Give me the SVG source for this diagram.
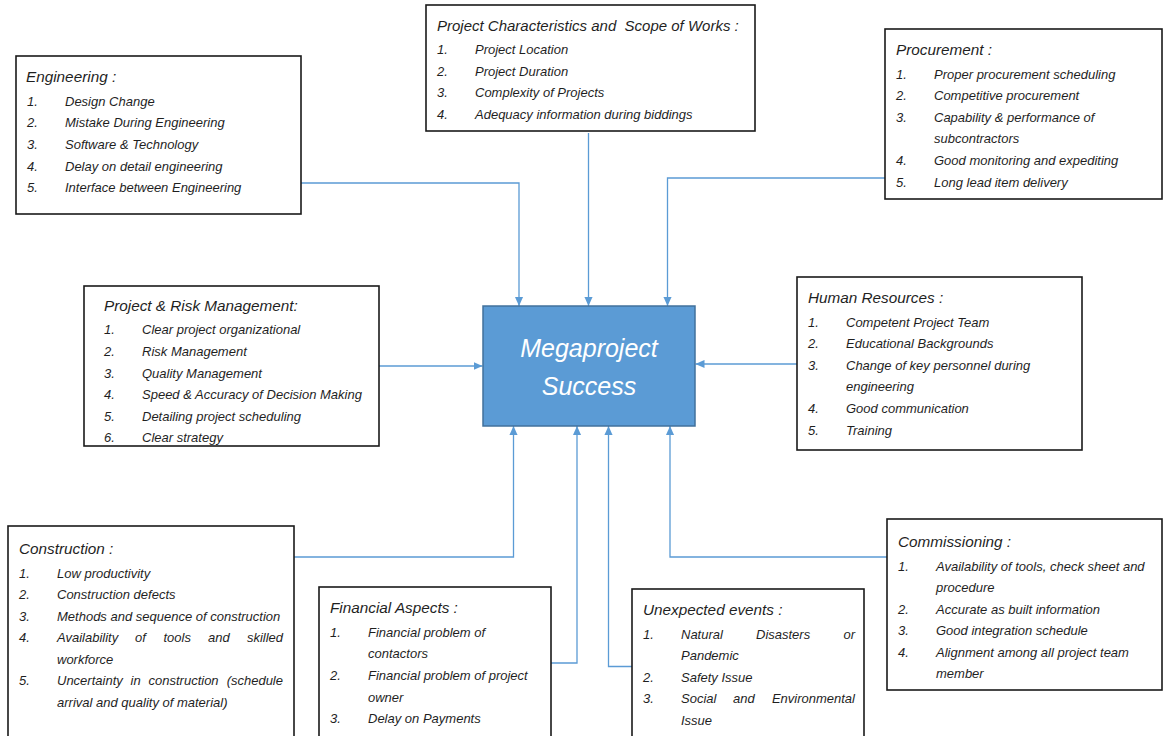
<svg xmlns="http://www.w3.org/2000/svg" width="1164" height="736" viewBox="0 0 1164 736">
<defs>
<style>
.box{fill:#fff;stroke:#1a1a1a;stroke-width:1.6}
.t{font-family:"Liberation Sans",Arial,sans-serif;font-style:italic;font-size:13px;fill:#1f1f1f}
.h{font-family:"Liberation Sans",Arial,sans-serif;font-style:italic;font-size:15.3px;fill:#1f1f1f;white-space:pre}
.c{fill:none;stroke:#5B9BD5;stroke-width:1.3;marker-end:url(#ah)}
.ctr{font-family:"Liberation Sans",Arial,sans-serif;font-style:italic;font-size:25px;fill:#fff;text-anchor:middle}
</style>
<marker id="ah" viewBox="0 0 10 10" refX="10" refY="5" markerWidth="9" markerHeight="9" markerUnits="userSpaceOnUse" orient="auto">
<path d="M0,0.5 L10,5 L0,9.5 z" fill="#5B9BD5"/>
</marker>
</defs>
<rect width="1164" height="736" fill="#fff"/>

<g id="connectors">
<path class="c" d="M301,183 H519 V306"/>
<path class="c" d="M588.5,133 V306"/>
<path class="c" d="M885,178 H667.5 V306"/>
<path class="c" d="M379,366 H482.5"/>
<path class="c" d="M797,364 H695.5"/>
<path class="c" d="M294,557 H513.5 V426"/>
<path class="c" d="M551,663 H577 V426"/>
<path class="c" d="M632,666.5 H608.5 V426"/>
<path class="c" d="M887,557 H670 V426"/>
</g>

<g id="center">
<rect x="483" y="306" width="212" height="120" fill="#5B9BD5" stroke="#41719C" stroke-width="1.5"/>
<text class="ctr" x="589" y="357">Megaproject</text>
<text class="ctr" x="589" y="395">Success</text>
</g>

<g id="engineering">
<rect class="box" x="16" y="56" width="285" height="158"/>
<text class="h" x="26" y="82">Engineering :</text>
<text class="t" x="27" y="106">1.</text><text class="t" x="65" y="106">Design Change</text>
<text class="t" x="27" y="127">2.</text><text class="t" x="65" y="127">Mistake During Engineering</text>
<text class="t" x="27" y="149">3.</text><text class="t" x="65" y="149">Software &amp; Technology</text>
<text class="t" x="27" y="171">4.</text><text class="t" x="65" y="171">Delay on detail engineering</text>
<text class="t" x="27" y="192">5.</text><text class="t" x="65" y="192">Interface between Engineering</text>
</g>

<g id="scope">
<rect class="box" x="426" y="5" width="329" height="126"/>
<text class="h" x="437" y="31" style="font-size:15px">Project Characteristics and  Scope of Works :</text>
<text class="t" x="437" y="54">1.</text><text class="t" x="475" y="54">Project Location</text>
<text class="t" x="437" y="76">2.</text><text class="t" x="475" y="76">Project Duration</text>
<text class="t" x="437" y="97">3.</text><text class="t" x="475" y="97">Complexity of Projects</text>
<text class="t" x="437" y="119">4.</text><text class="t" x="475" y="119">Adequacy information during biddings</text>
</g>

<g id="procurement">
<rect class="box" x="885" y="29" width="277" height="170"/>
<text class="h" x="896" y="55">Procurement :</text>
<text class="t" x="896" y="79">1.</text><text class="t" x="934" y="79">Proper procurement scheduling</text>
<text class="t" x="896" y="100">2.</text><text class="t" x="934" y="100">Competitive procurement</text>
<text class="t" x="896" y="122">3.</text><text class="t" x="934" y="122">Capability &amp; performance of</text>
<text class="t" x="934" y="143">subcontractors</text>
<text class="t" x="896" y="165">4.</text><text class="t" x="934" y="165">Good monitoring and expediting</text>
<text class="t" x="896" y="187">5.</text><text class="t" x="934" y="187">Long lead item delivery</text>
</g>

<g id="risk">
<rect class="box" x="84" y="286" width="295" height="160"/>
<text class="h" x="104" y="311">Project &amp; Risk Management:</text>
<text class="t" x="104" y="334">1.</text><text class="t" x="142" y="334">Clear project organizational</text>
<text class="t" x="104" y="356">2.</text><text class="t" x="142" y="356">Risk Management</text>
<text class="t" x="104" y="378">3.</text><text class="t" x="142" y="378">Quality Management</text>
<text class="t" x="104" y="399">4.</text><text class="t" x="142" y="399">Speed &amp; Accuracy of Decision Making</text>
<text class="t" x="104" y="421">5.</text><text class="t" x="142" y="421">Detailing project scheduling</text>
<text class="t" x="104" y="442">6.</text><text class="t" x="142" y="442">Clear strategy</text>
</g>

<g id="human">
<rect class="box" x="797" y="277" width="285" height="173"/>
<text class="h" x="808" y="303">Human Resources :</text>
<text class="t" x="808" y="327">1.</text><text class="t" x="846" y="327">Competent Project Team</text>
<text class="t" x="808" y="348">2.</text><text class="t" x="846" y="348">Educational Backgrounds</text>
<text class="t" x="808" y="370">3.</text><text class="t" x="846" y="370">Change of key personnel during</text>
<text class="t" x="846" y="391">engineering</text>
<text class="t" x="808" y="413">4.</text><text class="t" x="846" y="413">Good communication</text>
<text class="t" x="808" y="435">5.</text><text class="t" x="846" y="435">Training</text>
</g>

<g id="construction">
<rect class="box" x="8" y="526" width="286" height="215"/>
<text class="h" x="19" y="554">Construction :</text>
<text class="t" x="19" y="578">1.</text><text class="t" x="57" y="578">Low productivity</text>
<text class="t" x="19" y="599">2.</text><text class="t" x="57" y="599">Construction defects</text>
<text class="t" x="19" y="621">3.</text><text class="t" x="57" y="621">Methods and sequence of construction</text>
<text class="t" x="19" y="642">4.</text>
<text class="t" y="642"><tspan x="57">Availability</tspan><tspan x="135">of</tspan><tspan x="163.5">tools</tspan><tspan x="208">and</tspan></text>
<text class="t" x="283" y="642" text-anchor="end">skilled</text>
<text class="t" x="57" y="664">workforce</text>
<text class="t" x="19" y="685">5.</text>
<text class="t" y="685"><tspan x="57">Uncertainty</tspan><tspan x="130.5">in</tspan><tspan x="148.5">construction</tspan></text>
<text class="t" x="283" y="685" text-anchor="end">(schedule</text>
<text class="t" x="57" y="707">arrival and quality of material)</text>
</g>

<g id="financial">
<rect class="box" x="319" y="587" width="232" height="155"/>
<text class="h" x="330" y="613">Financial Aspects :</text>
<text class="t" x="330" y="637">1.</text><text class="t" x="368" y="637">Financial problem of</text>
<text class="t" x="368" y="658">contactors</text>
<text class="t" x="330" y="680">2.</text><text class="t" x="368" y="680">Financial problem of project</text>
<text class="t" x="368" y="702">owner</text>
<text class="t" x="330" y="723">3.</text><text class="t" x="368" y="723">Delay on Payments</text>
</g>

<g id="unexpected">
<rect class="box" x="632" y="589" width="232" height="155"/>
<text class="h" x="643" y="615">Unexpected events :</text>
<text class="t" x="643" y="639">1.</text>
<text class="t" y="639"><tspan x="681">Natural</tspan><tspan x="756">Disasters</tspan></text>
<text class="t" x="855" y="639" text-anchor="end">or</text>
<text class="t" x="681" y="660">Pandemic</text>
<text class="t" x="643" y="682">2.</text><text class="t" x="681" y="682">Safety Issue</text>
<text class="t" x="643" y="703">3.</text>
<text class="t" y="703"><tspan x="681">Social</tspan><tspan x="733">and</tspan></text>
<text class="t" x="855" y="703" text-anchor="end">Environmental</text>
<text class="t" x="681" y="725">Issue</text>
</g>

<g id="commissioning">
<rect class="box" x="887" y="519" width="275" height="171"/>
<text class="h" x="898" y="547">Commissioning :</text>
<text class="t" x="898" y="571">1.</text><text class="t" x="936" y="571">Availability of tools, check sheet and</text>
<text class="t" x="936" y="592">procedure</text>
<text class="t" x="898" y="614">2.</text><text class="t" x="936" y="614">Accurate as built information</text>
<text class="t" x="898" y="635">3.</text><text class="t" x="936" y="635">Good integration schedule</text>
<text class="t" x="898" y="657">4.</text><text class="t" x="936" y="657">Alignment among all project team</text>
<text class="t" x="936" y="678">member</text>
</g>
</svg>
